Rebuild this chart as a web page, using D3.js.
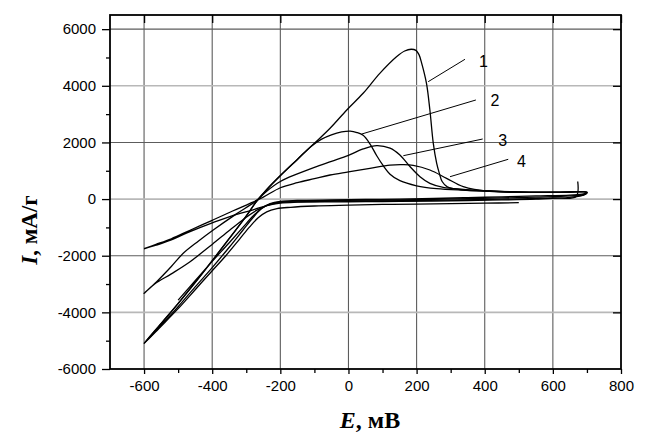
<!DOCTYPE html>
<html>
<head>
<meta charset="utf-8">
<script src="https://cdn.jsdelivr.net/npm/d3@7"></script>
<style>
  html, body { margin: 0; padding: 0; background: #fff; }
  svg { display: block; }
</style>
</head>
<body>
<svg id="chart" width="648" height="441" xmlns="http://www.w3.org/2000/svg"></svg>
<script>
// Cyclic voltammograms: potential E (mV) vs current I (mA/g), points as [E, I]

// Curve 1: strongest anodic peak (~5290 mA/g near 185 mV)
const curve1 = [
  [-600,-5100],[-550,-4400],[-500,-3690],[-450,-2950],[-400,-2180],[-350,-1400],[-300,-600],
  [-270,-90],[-240,330],[-200,825],[-150,1400],[-100,1970],[-54,2500],[-5,3146],[43,3735],
  [92,4440],[141,5027],[165,5230],[184,5290],[198,5250],[207,5100],[215,4794],[229,4088],
  [239,3146],[249,1970],[259,1263],[267,900],[275,620],[290,430],[310,370],[337,320],
  [415,285],[533,240],[620,240],[700,250],
  [690,180],[650,140],[550,110],[450,80],[350,50],[250,20],[150,0],[50,-15],[-50,-30],
  [-150,-50],[-200,-80],[-230,-160],[-255,-330],[-280,-650],[-310,-1100],[-350,-1700],
  [-400,-2420],[-450,-3100],[-500,-3800],[-550,-4460],[-600,-5100]
];

// Curve 2: peak ~2400 mA/g near 5 mV; sweep starts at 500 mV and stops at -500 mV
const curve2 = [
  [500,-128],[400,-145],[300,-160],[200,-175],[100,-190],[0,-215],[-100,-245],[-170,-290],
  [-210,-340],[-240,-450],[-265,-660],[-290,-980],[-320,-1420],[-360,-2000],[-400,-2530],
  [-450,-3200],[-500,-3870],[-550,-4490],[-600,-5100],
  [-550,-4390],[-500,-3680],[-450,-2940],[-400,-2170],[-350,-1390],[-300,-590],[-270,-80],
  [-240,340],[-200,830],[-150,1400],[-110,1860],[-80,2110],[-50,2270],[-20,2370],[5,2400],
  [25,2350],[43,2250],[63,1950],[83,1530],[102,1180],[122,880],[151,650],[200,470],
  [259,370],[337,315],[415,280],[533,238],[620,235],[700,240],
  [690,160],[650,110],[550,70],[450,40],[350,15],[250,-10],[150,-25],[50,-40],[-50,-55],
  [-150,-70],[-200,-100],[-230,-180],[-255,-330],[-280,-600],[-310,-1000],[-350,-1540],
  [-400,-2200],[-450,-2880],[-500,-3570]
];

// Curve 3: peak ~1900 mA/g near 83 mV
const curve3 = [
  [673,620],[668,90],[600,40],[500,10],[400,-15],[300,-35],[200,-50],[100,-60],[0,-70],
  [-100,-85],[-170,-100],[-210,-140],[-240,-230],[-270,-400],[-300,-640],[-348,-1092],
  [-400,-1600],[-465,-2211],[-520,-2640],[-568,-2990],[-600,-3330],
  [-563,-2917],[-520,-2380],[-485,-1915],[-440,-1480],[-397,-1092],[-330,-530],[-274,-90],
  [-240,280],[-200,620],[-150,890],[-100,1120],[-50,1330],[0,1540],[43,1770],[83,1890],
  [122,1800],[151,1557],[181,1143],[210,790],[239,557],[278,416],[337,345],[415,285],
  [533,245],[620,240],[700,235],[690,150],[668,95]
];

// Curve 4: weakest peak ~1210 mA/g near 160 mV
const curve4 = [
  [-600,-1750],[-565,-1600],[-520,-1400],[-465,-1100],[-400,-750],[-340,-420],[-289,-150],
  [-250,70],[-200,400],[-150,580],[-100,720],[-54,850],[0,960],[63,1085],[122,1200],
  [160,1215],[190,1190],[239,1027],[288,733],[337,437],[415,270],[533,235],[700,225],
  [690,140],[650,60],[550,0],[450,-30],[350,-50],[250,-70],[150,-80],[50,-90],[-50,-100],
  [-150,-110],[-200,-140],[-240,-230],[-280,-380],[-340,-580],[-400,-840],[-465,-1150],
  [-520,-1440],[-565,-1630],[-600,-1760]
];

const curves = [curve1, curve2, curve3, curve4];

// Curve numbers with leader lines (in data units)
const curveNames = ["1", "2", "3", "4"];
const leaderFrom = [[234, 4145], [39, 2298], [161, 1532], [298, 790]];
const leaderTo   = [[342, 4936], [374, 3499], [394, 2121], [469, 1405]];
const nameAt     = [[396, 4851], [430, 3499], [453, 2086], [508, 1334]];

// Axis ticks
const xMajor = [-600, -400, -200, 0, 200, 400, 600, 800];
const xMinor = [-500, -300, -100, 100, 300, 500, 700];
const yMajor = [-6000, -4000, -2000, 0, 2000, 4000, 6000];
const yMinor = [-5000, -3000, -1000, 1000, 3000, 5000];

const svg = d3.select("#chart");
const plotL = 110, plotR = 621, plotT = 15, plotB = 369;

const x = d3.scaleLinear().domain([-700, 800]).range([plotL, plotR]);
const y = d3.scaleLinear().domain([-6000, 6500]).range([plotB, plotT]);

const plainNumber = d => String(d);

// Grid lines as paths
const gridLayer = svg.append("g").attr("class", "grid-layer");
gridLayer.selectAll("path.gx")
  .data(xMajor.filter(v => v < 800))
  .join("path")
  .attr("class", "gx")
  .attr("d", d => `M${x(d)},${plotT}V${plotB}`)
  .style("stroke", "#5c5c5c")
  .style("stroke-width", "1.1px")
  .style("fill", "none");
gridLayer.selectAll("path.gy")
  .data(yMajor.filter(v => v > -6000))
  .join("path")
  .attr("class", "gy")
  .attr("d", d => `M${plotL},${y(d)}H${plotR}`)
  .style("stroke", d => (d % 4000 === 0) ? "#b8b8b8" : "#5c5c5c")
  .style("stroke-width", d => (d % 4000 === 0) ? "1.6px" : "1.1px")
  .style("fill", "none");

// Curves
const lineGen = d3.line()
  .x(d => x(d[0])).y(d => y(d[1]))
  .curve(d3.curveCatmullRom.alpha(0.5));

svg.append("g").selectAll("path").data(curves).join("path")
  .attr("d", lineGen)
  .attr("fill", "none")
  .attr("stroke", "#000")
  .attr("stroke-width", 1.3)
  .attr("stroke-linejoin", "round");

// Leader lines and curve numbers
const labels = svg.append("g");
labels.selectAll("line").data(curveNames).join("line")
  .attr("x1", (d, i) => x(leaderFrom[i][0])).attr("y1", (d, i) => y(leaderFrom[i][1]))
  .attr("x2", (d, i) => x(leaderTo[i][0])).attr("y2", (d, i) => y(leaderTo[i][1]))
  .attr("stroke", "#000").attr("stroke-width", 1);
labels.selectAll("text").data(curveNames).join("text")
  .attr("x", (d, i) => x(nameAt[i][0])).attr("y", (d, i) => y(nameAt[i][1]))
  .attr("text-anchor", "middle").attr("dy", "0.36em")
  .attr("font-family", "Liberation Sans, Arial, sans-serif").attr("font-size", 16)
  .text(d => d);

// Axes
const axisFont = "Liberation Sans, Arial, sans-serif";
const axes = svg.append("g");

// bottom
axes.append("g").attr("transform", `translate(0,${plotB})`)
  .call(d3.axisBottom(x).tickValues(xMajor).tickSize(5).tickPadding(6).tickFormat(plainNumber));
axes.append("g").attr("transform", `translate(0,${plotB})`)
  .call(d3.axisBottom(x).tickValues(xMinor).tickSize(4).tickFormat(""));
// top (inward ticks)
axes.append("g").attr("transform", `translate(0,${plotT})`)
  .call(d3.axisBottom(x).tickValues(xMajor).tickSize(8).tickFormat(""));
// left
axes.append("g").attr("transform", `translate(${plotL},0)`)
  .call(d3.axisLeft(y).tickValues(yMajor).tickSize(8).tickPadding(6).tickFormat(plainNumber));
axes.append("g").attr("transform", `translate(${plotL},0)`)
  .call(d3.axisLeft(y).tickValues(yMinor).tickSize(4).tickFormat(""));
// right (inward ticks)
axes.append("g").attr("transform", `translate(${plotR},0)`)
  .call(d3.axisLeft(y).tickValues(yMajor.filter(v => v > -6000)).tickSize(8).tickFormat(""));

axes.selectAll(".domain").remove();
axes.selectAll(".tick line").attr("stroke", "#000").attr("stroke-width", 1.3);
axes.selectAll(".tick text")
  .attr("font-family", axisFont).attr("font-size", 15).attr("fill", "#000");

// Frame
svg.append("rect")
  .attr("x", plotL).attr("y", plotT)
  .attr("width", plotR - plotL).attr("height", plotB - plotT)
  .attr("fill", "none").attr("stroke", "#000").attr("stroke-width", 1.8);

// Axis titles
const yTitle = svg.append("text")
  .attr("transform", "translate(37,230) rotate(-90)")
  .attr("text-anchor", "middle")
  .attr("font-family", "Liberation Serif, Times New Roman, serif")
  .attr("font-weight", "bold").attr("font-size", 23);
yTitle.append("tspan").attr("font-style", "italic").text("I");
yTitle.append("tspan").text(", мА/г");

const xTitle = svg.append("text")
  .attr("x", 370).attr("y", 428)
  .attr("text-anchor", "middle")
  .attr("font-family", "Liberation Serif, Times New Roman, serif")
  .attr("font-weight", "bold").attr("font-size", 24);
xTitle.append("tspan").attr("font-style", "italic").text("E");
xTitle.append("tspan").text(", мВ");
</script>
</body>
</html>
